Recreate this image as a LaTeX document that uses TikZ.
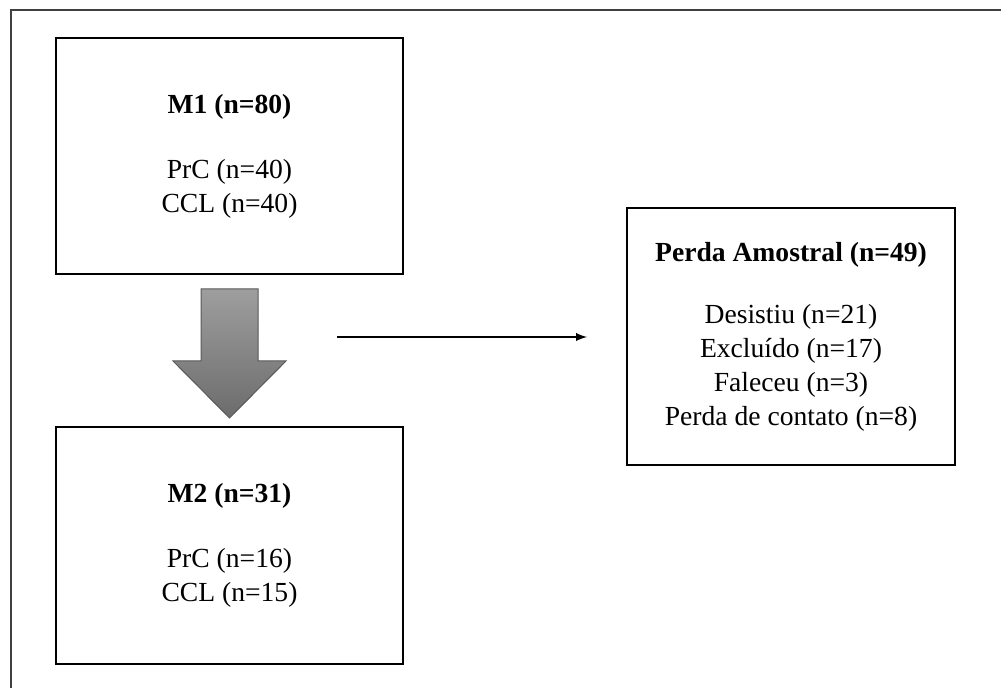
\documentclass[tikz,border=0pt]{standalone}
\usepackage{fontspec}
\setmainfont{Liberation Serif}
\usetikzlibrary{calc}
\definecolor{arrowtop}{RGB}{158,158,158}
\definecolor{arrowbot}{RGB}{108,108,108}

\begin{document}
\begin{tikzpicture}[x=0.5pt,y=-0.5pt,
	sample/.style={draw,line width=0.6pt,align=center,inner sep=0pt,
		font=\fontsize{13.8}{17}\selectfont}]
\useasboundingbox (0,0) rectangle (1001,688);
\draw [line width=0.8pt,black!75] (11,688) -- (11,10) -- (1001,10);

\node[sample,minimum width=173.5pt,minimum height=118pt] (M1) at (229.5,156)
	{\textbf{M1 (n=80)}\\[15.5pt] PrC (n=40)\\ CCL (n=40)};
\node[sample,minimum width=173.5pt,minimum height=118.5pt] (M2) at (229.5,545.5)
	{\textbf{M2 (n=31)}\\[15.5pt] PrC (n=16)\\ CCL (n=15)};
\node[sample,minimum width=164pt,minimum height=128.5pt] (perda) at (791,336.5)
	{\textbf{Perda Amostral (n=49)}\\[14pt] Desistiu (n=21)\\ Exclu\'ido (n=17)\\
	 Faleceu (n=3)\\ Perda de contato (n=8)};

% seta entre M1 e M2
\draw [line width=0.5pt,black!65,top color=arrowtop,bottom color=arrowbot]
	(201,289) -- (258,289) -- (258,361) -- (286,361) -- (229.5,418)
	-- (173,361) -- (201,361) -- cycle;

\coordinate (lossA) at (337,337);
\coordinate (lossB) at (587,337);
\draw [line width=0.9pt,-latex] (lossA) -- (lossB);
\end{tikzpicture}
\end{document}
